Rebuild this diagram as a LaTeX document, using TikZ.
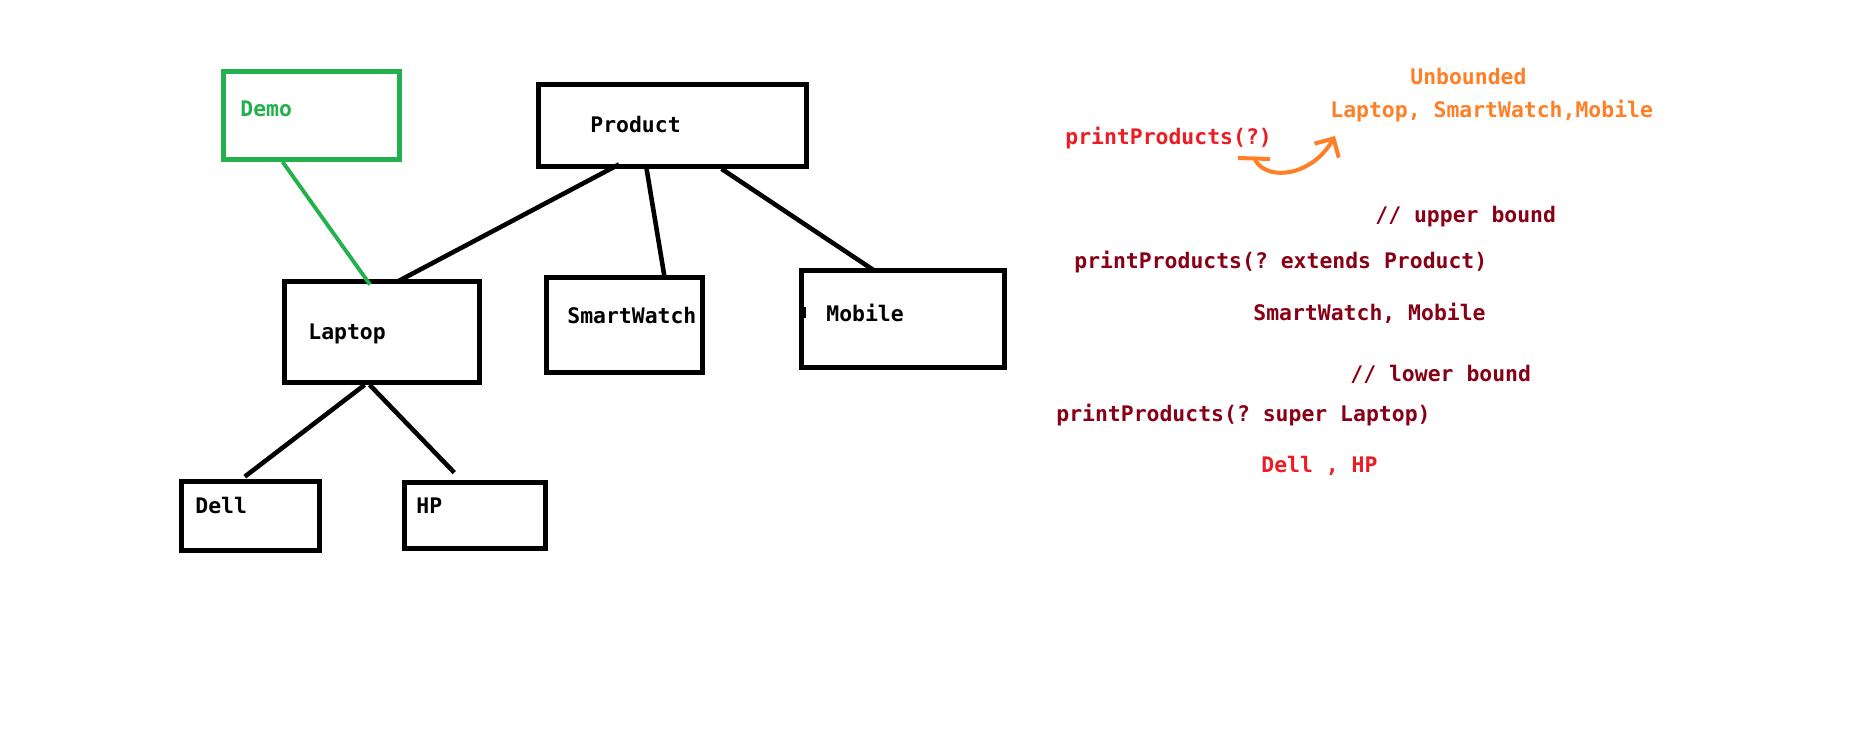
\documentclass[tikz,border=0pt]{standalone}
\usepackage{fontspec}
\setmonofont{DejaVu Sans Mono}
\usepackage{tikz}
\usetikzlibrary{arrows.meta,calc}

\definecolor{pgreen}{RGB}{34,177,76}
\definecolor{porange}{RGB}{255,127,39}
\definecolor{pred}{RGB}{237,28,36}
\definecolor{pdarkred}{RGB}{136,0,21}

\begin{document}
\begin{tikzpicture}[x=0.02cm, y=-0.02cm, every node/.style={font=\ttfamily\bfseries\fontsize{12.2}{14}\selectfont}, box/.style={draw, line width=2.7pt, inner sep=0pt}, txt/.style={anchor=base west, inner sep=0pt}, link/.style={line width=2.6pt}]
	\useasboundingbox (0,0) rectangle (1852,743);
	% class boxes
	\node[box, draw=pgreen, minimum width=3.52cm, minimum height=1.76cm] (demo) at (311.5,115.5) {};
	\node[box, minimum width=5.36cm, minimum height=1.64cm] (product) at (672.5,125.5) {};
	\node[box, minimum width=3.9cm, minimum height=2.02cm] (laptop) at (382,332) {};
	\node[box, minimum width=3.12cm, minimum height=1.9cm] (watch) at (624.5,325) {};
	\node[box, minimum width=4.06cm, minimum height=1.94cm] (mobile) at (903,319) {};
	\node[box, minimum width=2.76cm, minimum height=1.38cm] (dell) at (250.5,516) {};
	\node[box, minimum width=2.82cm, minimum height=1.32cm] (hp) at (475,515.5) {};
	\node[txt, text=pgreen] (demo-t) at (240,117) {Demo};
	\node[txt] (product-t) at (590,133) {Product};
	\node[txt] (laptop-t) at (308,339) {Laptop};
	\node[txt] (watch-t) at (567,323) {SmartWatch};
	\node[txt] (mobile-t) at (826,321) {Mobile};
	\node[txt] (dell-t) at (195,513) {Dell};
	\node[txt] (hp-t) at (416,513) {HP};
	\fill (mobile.west) ++(2,-12) rectangle ++(5,11);
	% links
	\draw[link, draw=pgreen, line width=2.2pt] ($(demo.south west)!.34!(demo.south east)$) -- ([yshift=-0.11cm]$(laptop.north west)!.44!(laptop.north east)$);
	\draw[link] ([yshift=0.09cm]$(product.south west)!.304!(product.south east)$) -- ([yshift=-0.05cm]$(laptop.north west)!.577!(laptop.north east)$);
	\draw[link] ($(product.south west)!.405!(product.south east)$) -- ($(watch.north west)!.747!(watch.north east)$);
	\draw[link] ($(product.south west)!.68!(product.south east)$) -- ([yshift=-0.05cm]$(mobile.north west)!.362!(mobile.north east)$);
	\draw[link] ($(laptop.south west)!.413!(laptop.south east)$) -- ([yshift=0.05cm]$(dell.north west)!.46!(dell.north east)$);
	\draw[link] ($(laptop.south west)!.438!(laptop.south east)$) -- ([yshift=0.15cm]$(hp.north west)!.358!(hp.north east)$);
	% wildcard notes
	\node[txt, text=porange] (unb) at (1410,85) {Unbounded};
	\node[txt, text=porange] (unb-list) at (1330,118) {Laptop, SmartWatch,Mobile};
	\node[txt, text=pred] (any) at (1065,145) {printProducts(?)};
	\node[txt, text=pdarkred] (upper) at (1375,223) {// upper bound};
	\node[txt, text=pdarkred] (ext) at (1074,268) {printProducts(? extends Product)};
	\node[txt, text=pdarkred] (ext-list) at (1253,320) {SmartWatch, Mobile};
	\node[txt, text=pdarkred] (lower) at (1350,381) {// lower bound};
	\node[txt, text=pdarkred] (sup) at (1056,421) {printProducts(? super Laptop)};
	\node[txt, text=pred] (sup-list) at (1261,472) {Dell , HP};
	\coordinate (curl) at (1238,158);
	\draw[porange, line width=2.3pt] (curl) -- ++(32,1);
	\draw[porange, line width=2.3pt, -{Straight Barb[length=2.8mm, width=5.6mm, line width=2.3pt]}] ($(curl)+(17,2)$) .. controls (1268,182) and (1312,176) .. ([shift={(0.1cm,-0.36cm)}]unb-list.base west);
\end{tikzpicture}
\end{document}
